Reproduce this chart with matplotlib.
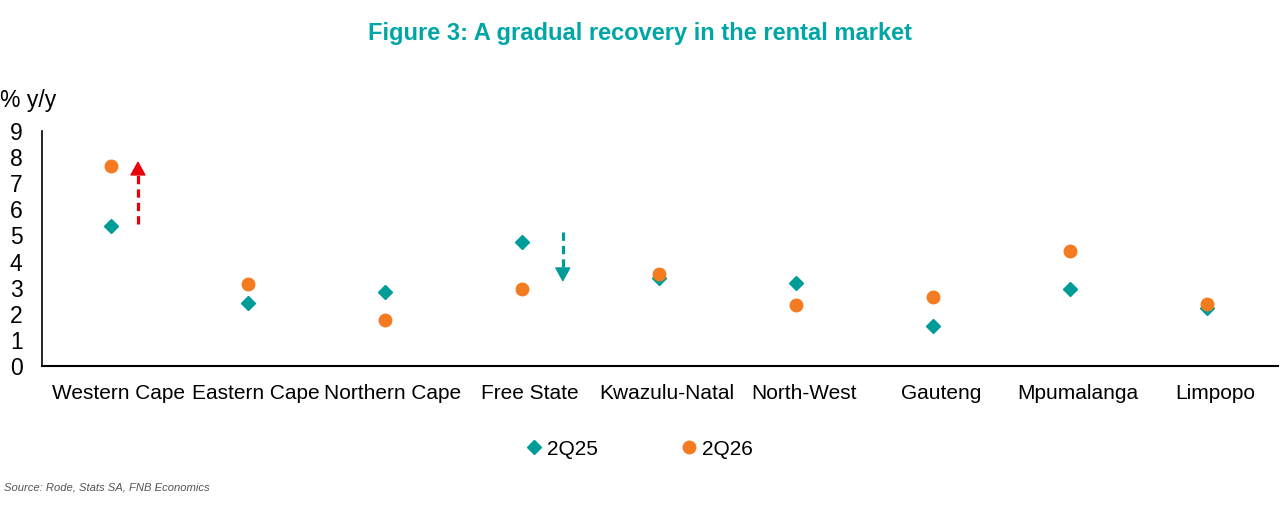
import matplotlib
matplotlib.use("Agg")
import matplotlib.pyplot as plt
import matplotlib.transforms as mtransforms
import numpy as np

# data
provinces = [
    "Western Cape", "Eastern Cape", "Northern Cape", "Free State",
    "Kwazulu-Natal", "North-West", "Gauteng", "Mpumalanga", "Limpopo",
]
q2_25 = [5.38, 2.42, 2.83, 4.76, 3.38, 3.19, 1.52, 2.93, 2.23]
q2_26 = [7.66, 3.15, 1.78, 2.93, 3.51, 2.33, 2.65, 4.40, 2.38]
y_ticks = list(range(0, 10))

# direction arrows: (x, tail, tip)
up_arrow = (0.2, 5.44, 7.85)
down_arrow = (3.3, 5.15, 3.22)

teal = "#009C98"
orange = "#F47B20"
red = "#E8000B"
title_teal = "#00A6A6"

plt.rcParams["font.family"] = ["Liberation Sans", "DejaVu Sans"]

fig = plt.figure(figsize=(12.81, 5.21), dpi=100)
ax = fig.add_axes([0.0328, 0.2975, 0.965, 0.4511])

x = np.arange(len(provinces))
ax.plot(x, q2_25, "D", color=teal, markersize=7.5, linestyle="none", label="2Q25")
ax.plot(x, q2_26, "o", color=orange, markersize=9, linestyle="none", label="2Q26")


def dashed_arrow(ax, xa, tail, tip, color, head=0.46):
    # dashed shaft + solid head
    sign = 1 if tip > tail else -1
    base = tip - sign * head
    ax.plot([xa, xa], [tail, base], color=color, lw=2.3,
            linestyle=(0, (2.6, 1.6)), solid_capstyle="butt")
    ax.annotate("", xy=(xa, tip), xytext=(xa, base),
                arrowprops=dict(arrowstyle="-|>,head_length=0.9,head_width=0.5",
                                color=color, lw=1, shrinkA=0, shrinkB=0))


dashed_arrow(ax, *up_arrow, red)
dashed_arrow(ax, *down_arrow, teal)

ax.set_xlim(-0.5, 8.52)
ax.set_ylim(0, 9)
ax.set_yticks(y_ticks)
ax.set_xticks(x)
ax.set_xticklabels(provinces)
ax.tick_params(axis="both", length=0, colors="black")
ax.tick_params(axis="y", labelsize=16.5, pad=14)
ax.tick_params(axis="x", labelsize=15, pad=13)
shift = mtransforms.ScaledTranslation(0.08, 0, fig.dpi_scale_trans)
for lbl in ax.get_xticklabels():
    lbl.set_transform(lbl.get_transform() + shift)
for s in ["top", "right"]:
    ax.spines[s].set_visible(False)
ax.spines["left"].set_linewidth(1.2)
ax.spines["bottom"].set_linewidth(1.5)

fig.text(0.0, 0.808, "% y/y", fontsize=16.5, ha="left", va="center")

fig.text(0.5, 0.935, "Figure 3: A gradual recovery in the rental market",
         fontsize=17, fontweight="bold", color=title_teal, ha="center", va="center")

fig.legend(loc="center", bbox_to_anchor=(0.5, 0.138), ncol=2, frameon=False,
           fontsize=15, handletextpad=0.3, columnspacing=4.1, handlelength=0.6)

fig.text(0.003, 0.065, "Source: Rode, Stats SA, FNB Economics", fontsize=8.1,
         style="italic", color="#555555", ha="left", va="center")

fig.savefig("out.png", dpi=100)
